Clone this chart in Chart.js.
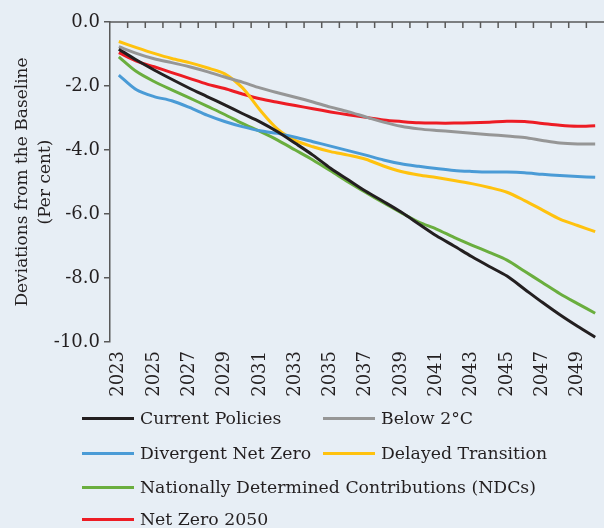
<!DOCTYPE html>
<html><head><meta charset="utf-8">
<script src="https://cdn.jsdelivr.net/npm/chart.js@4.4.1/dist/chart.umd.min.js"></script>
<style>
html,body{margin:0;padding:0;background:#e7eef5;}
#wrap{position:relative;width:604px;height:528px;overflow:hidden;background:#e7eef5;}
canvas{position:absolute;left:0;top:0;}
.leg{position:absolute;height:22px;line-height:22px;font-family:"DejaVu Serif";font-size:17.3px;color:#231f20;white-space:nowrap;display:flex;align-items:center;}
.leg .sw{display:inline-block;width:52px;height:3px;margin-right:6px;}
</style></head>
<body><div id="wrap"><canvas id="c" width="604" height="528"></canvas><div id="legend"></div></div>
<script>
const years = ['2023','2024','2025','2026','2027','2028','2029','2030','2031','2032','2033','2034','2035','2036','2037','2038','2039','2040','2041','2042','2043','2044','2045','2046','2047','2048','2049','2050'];
const currentPolicies = [-0.85,-1.19,-1.50,-1.79,-2.07,-2.33,-2.59,-2.86,-3.12,-3.43,-3.79,-4.16,-4.57,-4.93,-5.29,-5.61,-5.94,-6.31,-6.68,-7.00,-7.33,-7.64,-7.94,-8.35,-8.76,-9.15,-9.51,-9.85];
const below2C = [-0.77,-0.98,-1.15,-1.27,-1.40,-1.55,-1.72,-1.88,-2.06,-2.21,-2.35,-2.50,-2.66,-2.80,-2.97,-3.13,-3.26,-3.34,-3.39,-3.43,-3.48,-3.52,-3.56,-3.61,-3.70,-3.78,-3.81,-3.81];
const divergentNetZero = [-1.66,-2.12,-2.33,-2.46,-2.67,-2.91,-3.11,-3.27,-3.40,-3.48,-3.60,-3.74,-3.88,-4.02,-4.16,-4.31,-4.43,-4.51,-4.58,-4.64,-4.67,-4.69,-4.69,-4.71,-4.76,-4.80,-4.83,-4.85];
const delayedTransition = [-0.61,-0.80,-0.98,-1.14,-1.27,-1.43,-1.62,-2.05,-2.75,-3.35,-3.70,-3.90,-4.05,-4.16,-4.29,-4.50,-4.67,-4.78,-4.86,-4.95,-5.05,-5.17,-5.32,-5.58,-5.87,-6.16,-6.36,-6.55];
const ndcs = [-1.09,-1.55,-1.86,-2.12,-2.37,-2.63,-2.89,-3.17,-3.42,-3.69,-4.00,-4.31,-4.65,-5.00,-5.33,-5.65,-5.96,-6.25,-6.47,-6.73,-6.97,-7.20,-7.44,-7.79,-8.14,-8.49,-8.80,-9.10];
const netZero2050 = [-0.96,-1.22,-1.40,-1.58,-1.76,-1.94,-2.08,-2.25,-2.40,-2.51,-2.61,-2.71,-2.81,-2.90,-2.98,-3.06,-3.11,-3.15,-3.16,-3.16,-3.15,-3.13,-3.10,-3.11,-3.17,-3.23,-3.26,-3.24];

const seriesNames = ['Current Policies','Below 2°C','Divergent Net Zero','Delayed Transition','Nationally Determined Contributions (NDCs)','Net Zero 2050'];
const seriesColors = ['#231f20','#969696','#4a9bd6','#ffc20e','#6aae3e','#ed1c24'];
const seriesData = [currentPolicies,below2C,divergentNetZero,delayedTransition,ndcs,netZero2050];

const FONT = 'DejaVu Serif';
const AXIS = '#595959';

const topAxis = {
  id:'topAxis',
  afterDatasetsDraw(chart){
    const {ctx, chartArea:{left,right}, scales:{x,y}} = chart;
    const y0 = y.getPixelForValue(0);
    ctx.save();
    ctx.strokeStyle = AXIS; ctx.lineWidth = 1.5;
    ctx.beginPath();
    ctx.moveTo(left,y0); ctx.lineTo(right,y0);
    for(let i=1;i<years.length;i++){
      const px = (x.getPixelForValue(i-1)+x.getPixelForValue(i))/2;
      ctx.moveTo(px,y0); ctx.lineTo(px,y0+6);
    }
    ctx.stroke();
    ctx.restore();
  }
};

new Chart(document.getElementById('c'),{
  type:'line',
  data:{
    labels:years,
    datasets:seriesData.map((d,i)=>({label:seriesNames[i],data:d,borderColor:seriesColors[i],backgroundColor:seriesColors[i],borderWidth:3,pointRadius:0,tension:0.3,fill:false}))
  },
  options:{
    responsive:false, animation:false, devicePixelRatio:1,
    layout:{padding:{left:0,right:0,top:22,bottom:126}},
    plugins:{legend:{display:false},tooltip:{enabled:false}},
    scales:{
      x:{type:'category',offset:true,
        grid:{display:false,drawTicks:false},border:{display:false},
        ticks:{autoSkip:false,minRotation:90,maxRotation:90,padding:9,color:'#231f20',font:{family:FONT,size:18},
          callback:(v,i)=> i%2===0 ? years[i] : ''},
        afterFit(s){s.height=60;s.paddingLeft=0;s.paddingRight=0;}
      },
      y:{min:-10,max:0,
        ticks:{stepSize:2,padding:4,color:'#231f20',font:{family:FONT,size:18},callback:v=>Number(v).toFixed(1)},
        grid:{drawOnChartArea:false,drawTicks:true,tickLength:6,color:AXIS,lineWidth:1.5},
        border:{display:true,color:AXIS,width:1.5},
        title:{display:true,text:['Deviations from the Baseline','(Per cent)'],color:'#231f20',font:{family:FONT,size:17,lineHeight:1.3},padding:{top:12,bottom:0}},
        afterFit(s){s.width=110;}
      }
    }
  },
  plugins:[topAxis]
});

// HTML legend
const legPos = [[82,418],[323,418],[82,453],[323,453],[82,487],[82,519]];
const legEl = document.getElementById('legend');
seriesNames.forEach((n,i)=>{
  const d = document.createElement('div');
  d.className='leg';
  d.style.left = legPos[i][0]+'px';
  d.style.top = (legPos[i][1]-11)+'px';
  d.innerHTML = '<span class="sw" style="background:'+seriesColors[i]+'"></span><span></span>';
  d.lastChild.textContent = n;
  legEl.appendChild(d);
});
</script>
</body></html>
